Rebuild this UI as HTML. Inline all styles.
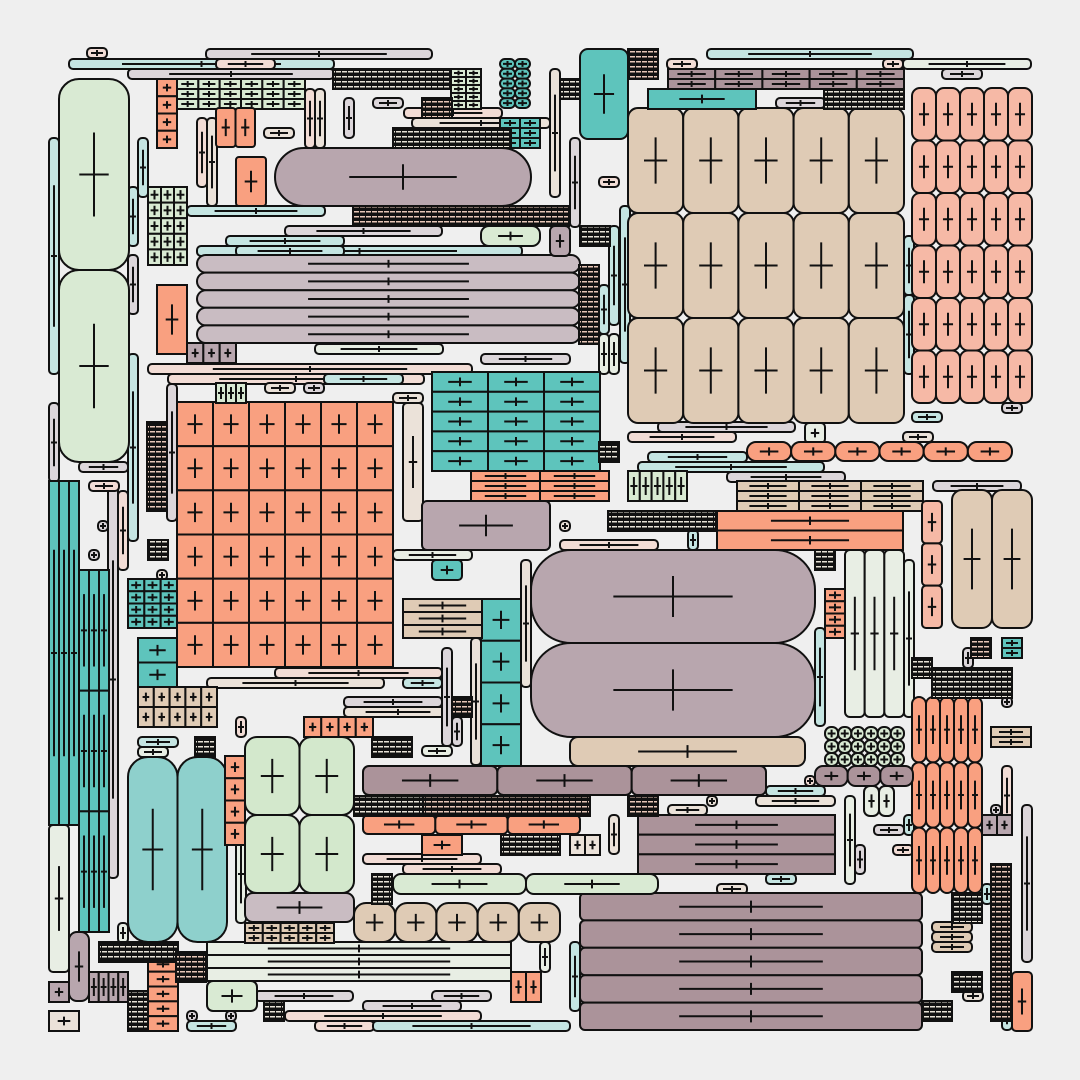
<!DOCTYPE html><html><head><meta charset="utf-8"><style>html,body{margin:0;padding:0;background:#efefef}svg{display:block}</style></head><body>
<svg id="s" width="1080" height="1080" xmlns="http://www.w3.org/2000/svg"><rect width="1080" height="1080" fill="#efefef"/>
<defs><pattern id="h" width="6" height="5" patternUnits="userSpaceOnUse"><rect width="6" height="5" fill="#111"/><rect y="1" width="5" height="1.5" fill="#e8c7b8"/></pattern>
<pattern id="h2" width="6" height="5" patternUnits="userSpaceOnUse"><rect width="6" height="5" fill="#111"/><rect y="1" width="5" height="1.5" fill="#e8e2d6"/></pattern></defs>
<g id="g"></g></svg>
<script>
var G='#d9ead3',G2='#d3e8cc',S='#f9a080',P='#f6b9a6',B='#dfcbb5',M='#b8a6ae',M2='#c9bcc2',M3='#ab939a',T='#5ec4bc',T2='#8ed0cc',LT='#c5e5e2',LP='#f2dcd5',LG='#e8eee4',LM='#dcd6da',LB='#ebe2d9';
var out='';
function cell(x,y,w,h,col,rx){
 var r=Math.min(rx,w/2,h/2);
 out+='<rect x="'+x+'" y="'+y+'" width="'+w+'" height="'+h+'" rx="'+r+'" fill="'+col+'" stroke="#111" stroke-width="2"/>';
 var cx=x+w/2,cy=y+h/2,hw=w*0.21,hh=h*0.22;
 if(w<14||h<14){hw=w*0.3;hh=h*0.3;}
 if(hh<w*0.1&&h>w)hh=h*0.22;
 out+='<path d="M'+(cx-hw)+' '+cy+'H'+(cx+hw)+'M'+cx+' '+(cy-hh)+'V'+(cy+hh)+'" stroke="#111" stroke-width="2"/>';
}
function grid(x,y,w,h,c,r,col,rx){var cw=w/c,ch=h/r;for(var i=0;i<c;i++)for(var j=0;j<r;j++)cell(x+i*cw,y+j*ch,cw,ch,col,rx);}
var bl=[
[59,79,70,191,1,1,G,20],[59,270,70,192,1,1,G,20],[177,402,216,265,6,6,S,0],[628,108,276,315,5,3,B,10],
[912,88,120,315,5,6,P,8],[275,148,256,58,1,1,M,29],[197,255,383,88,1,5,M2,9],[432,372,168,99,3,5,T,0],
[531,550,284,93,1,1,M,40],[531,643,284,94,1,1,M,40],[128,757,99,185,2,1,T2,20],[245,737,109,156,2,2,G2,12],
[580,893,342,137,1,5,M3,5],[49,481,30,344,3,1,T,0],[79,570,30,362,3,3,T,0],[952,490,80,138,2,1,B,10],
[912,697,70,196,5,3,S,8],[363,766,403,29,3,1,M3,6],[580,49,48,90,1,1,T,8],[570,737,235,29,1,1,B,8],
[747,442,265,19,6,1,S,9],[422,501,128,49,1,1,M,5],[481,599,40,167,1,4,T,0],[845,550,59,167,3,1,LG,5],
[354,903,206,39,5,1,B,12],[207,942,304,39,1,3,LG,0],[363,815,217,19,3,1,S,5],[638,815,197,59,1,3,M3,0],
[138,638,39,49,1,2,T,0],[138,687,79,40,5,2,B,0],[128,579,49,49,3,4,T,0],[148,187,39,78,3,5,G,0],
[177,79,128,30,6,3,G,0],[157,79,20,69,1,4,S,0],[216,108,39,39,2,1,S,3],[236,157,30,49,1,1,S,3],
[500,59,30,49,2,5,T,6],[500,118,40,30,2,3,T,0],[451,69,30,40,2,5,G,0],[471,471,138,30,2,3,S,0],
[628,471,59,30,5,1,G,0],[737,481,186,30,3,3,B,0],[717,511,186,39,1,2,S,0],[825,727,79,39,6,3,G,6],
[815,766,98,20,3,1,M3,8],[304,717,69,20,4,1,S,0],[225,756,20,89,1,4,S,0],[148,942,30,89,1,6,S,0],
[403,599,79,39,1,3,B,0],[393,874,133,20,1,1,G,8],[526,874,132,20,1,1,G,8],[245,893,109,29,1,1,M2,8],
[668,69,236,20,5,2,M3,0],[207,981,50,30,1,1,G,6],[481,226,59,20,1,1,G,8],[550,226,20,30,1,1,M,5],
[157,285,30,69,1,1,S,0],[187,343,49,20,3,1,M,0],[1002,638,20,20,1,2,T,0],[991,727,40,20,1,2,B,0],
[69,932,20,69,1,1,M,8],[932,922,40,30,1,3,B,4],[1012,972,20,59,1,1,S,4],[511,972,30,30,2,1,S,0],
[825,589,20,49,1,4,S,0],[922,501,20,127,1,3,P,4],[648,89,108,20,1,1,T,0],[216,383,30,20,3,1,G,0],
[245,923,89,20,5,2,B,0],[422,835,40,20,1,1,S,0],[570,835,30,20,2,1,LB,0],[982,815,30,20,2,1,M,0],
[864,786,30,30,2,1,LG,6],[89,972,39,30,4,1,M,0],[49,982,20,20,1,1,M,0],[49,1011,30,20,1,1,LB,0]
];
var hat=[[333,69,118,20,'h2'],[393,128,118,20,'h2'],[353,206,216,20,'h'],[579,265,20,79,'h'],[147,422,20,89,'h'],[824,89,80,20,'h2'],
[932,668,80,30,'h2'],[991,864,20,157,'h'],[952,893,30,30,'h2'],[128,991,20,40,'h2'],[99,942,79,20,'h2'],[176,952,30,30,'h'],
[372,874,20,30,'h2'],[354,796,69,20,'h2'],[423,796,167,20,'h'],[501,835,59,20,'h2'],[608,511,108,20,'h2'],[599,442,20,20,'h2'],
[628,49,30,30,'h'],[560,79,20,20,'h2'],[952,972,30,20,'h2'],[264,1001,20,20,'h2'],[922,1001,30,20,'h2'],[148,540,20,20,'h2'],
[452,697,20,20,'h'],[372,737,40,20,'h2'],[195,737,20,20,'h2'],[628,796,30,20,'h'],[422,98,30,20,'h'],[815,550,20,20,'h2'],
[971,638,20,20,'h'],[912,658,20,20,'h2'],[580,226,30,20,'h2'],[176,952,30,30,'h']];
var bars=[[69,59,265,10,LT],[206,49,226,10,LM],[128,69,206,10,LM],[707,49,206,10,LT],[903,59,128,10,LG],[49,138,10,236,LT],
[49,403,10,79,LM],[128,255,10,59,LM],[128,354,10,187,LT],[138,138,10,59,LT],[187,206,138,10,LT],[285,226,157,10,LM],
[226,236,118,10,LT],[197,246,325,10,LT],[315,344,128,10,LG],[481,354,89,10,LM],[148,364,324,10,LP],[168,374,256,10,LP],
[324,374,79,10,LT],[167,384,10,137,LM],[403,403,20,118,LB],[393,550,79,10,LG],[560,540,98,10,LP],[628,432,108,10,LP],
[658,422,137,10,LM],[648,452,99,10,LT],[638,462,186,10,LT],[727,472,118,10,LM],[933,481,88,10,LM],[275,668,167,10,LP],
[207,678,177,10,LB],[344,697,98,10,LM],[344,707,108,10,LB],[442,648,10,98,LM],[521,560,10,127,LB],[815,628,10,98,LT],
[904,560,10,157,LG],[236,825,10,98,LG],[363,854,118,10,LP],[403,864,98,10,LP],[845,796,10,88,LG],[756,796,79,10,LB],
[766,786,59,10,LT],[766,874,30,10,LT],[717,884,30,10,LB],[1022,805,10,157,LM],[963,991,20,10,LB],[255,991,98,10,LM],
[363,1001,98,10,LM],[432,991,59,10,LM],[187,1021,49,10,LT],[315,1021,59,10,LP],[373,1021,197,10,LT],[285,1011,196,10,LP],
[540,942,10,30,LG],[570,942,10,69,LT],[108,481,10,397,LM],[118,491,10,79,LP],[236,717,10,20,LP],[49,825,20,147,LG],
[550,69,10,128,LB],[570,138,10,89,LM],[305,89,10,59,LP],[315,89,10,59,LB],[344,98,10,40,LM],[373,98,30,10,LM],
[264,128,30,10,LB],[197,118,10,69,LP],[207,118,10,88,LB],[412,118,138,10,LB],[404,108,98,10,LP],[599,177,20,10,LP],
[609,226,10,99,LT],[620,206,10,157,LT],[599,285,10,49,LT],[599,334,10,40,LG],[609,334,10,40,LG],[912,412,30,10,LT],
[1002,403,20,10,LM],[904,236,10,59,LT],[904,295,10,79,LT],[87,48,20,10,LP],[216,59,59,10,LP],[89,481,30,10,LP],
[79,462,49,10,LM],[236,246,108,10,LT],[128,187,10,59,LT],[265,383,30,10,LB],[304,383,20,10,LM],[393,393,30,10,LB],
[138,737,40,10,LT],[138,747,30,10,LG],[403,678,39,10,LT],[422,746,30,10,LG],[452,717,10,29,LM],[471,638,10,127,LB],
[609,815,10,39,LB],[668,805,39,10,LB],[707,796,10,10,LB],[874,825,30,10,LM],[893,845,20,10,LP],[855,845,10,29,LM],
[904,815,10,20,LT],[1002,697,10,10,LM],[963,687,30,10,LM],[963,648,10,20,LM],[1002,766,10,59,LP],[991,805,10,10,LM],
[982,884,10,20,LT],[1002,1001,10,29,LT],[667,59,30,10,LP],[883,59,20,10,LP],[942,69,40,10,LM],[776,98,49,10,LM],
[903,432,30,10,LB],[805,423,20,20,LG],[688,530,10,20,LT],[560,521,10,10,LB],[432,560,30,20,T],[98,521,10,10,LM],
[89,550,10,10,LM],[187,1011,10,10,LM],[226,1011,10,10,LM],[118,923,10,20,LG],[157,570,10,10,LB],[805,776,10,10,LP]];
bars.forEach(function(b){cell(b[0],b[1],b[2],b[3],b[4],4)});
bl.forEach(function(b){grid.apply(null,b)});
hat.forEach(function(b){out+='<rect x="'+b[0]+'" y="'+b[1]+'" width="'+b[2]+'" height="'+b[3]+'" fill="url(#'+b[4]+')" stroke="#111" stroke-width="2"/>'});
document.getElementById('g').innerHTML=out;
</script></body></html>
